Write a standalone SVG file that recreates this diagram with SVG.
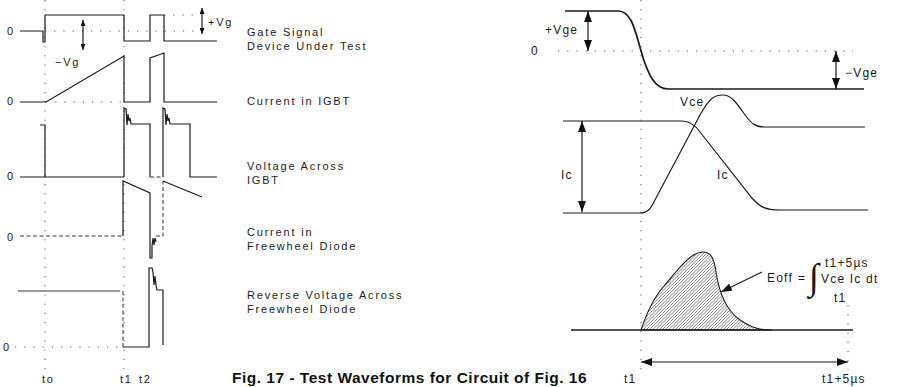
<svg xmlns="http://www.w3.org/2000/svg" width="900" height="387" viewBox="0 0 900 387">
<style>
 .w{fill:none;stroke:#1a1a1a;stroke-width:1.2}
 .wt{fill:none;stroke:#1a1a1a;stroke-width:1.7}
 .dot{fill:none;stroke:#555;stroke-width:1;stroke-dasharray:1.2 8}
 .dash{fill:none;stroke:#333;stroke-width:1;stroke-dasharray:4 2.5}
 .t{font-family:"Liberation Sans",Arial,sans-serif;font-size:11px;letter-spacing:1.8px;fill:#1a1a1a}
 .r{font-family:"Liberation Sans",Arial,sans-serif;font-size:12px;letter-spacing:1.2px;fill:#1a1a1a}
 .cap{font-family:"Liberation Sans",Arial,sans-serif;font-size:15.5px;letter-spacing:0.5px;font-weight:bold;fill:#111}
 .arr{fill:none;stroke:#1a1a1a;stroke-width:1.2}
</style>
<defs>
 <marker id="ah" markerUnits="userSpaceOnUse" markerWidth="11" markerHeight="8" refX="11" refY="4" orient="auto-start-reverse"><path d="M0,0 L11,4 L0,8 z" fill="#111"/></marker>
 <marker id="as" markerUnits="userSpaceOnUse" markerWidth="6" markerHeight="5" refX="6" refY="2.5" orient="auto-start-reverse"><path d="M0,0 L6,2.5 L0,5 z" fill="#111"/></marker>
 <pattern id="hatch" patternUnits="userSpaceOnUse" width="3.2" height="3.2"><path d="M-1,1 L1,-1 M0,3.2 L3.2,0 M2.2,4.2 L4.2,2.2" stroke="#222" stroke-width="0.6"/></pattern>
</defs>

<g id="grid">
 <path class="dot" d="M45,0 V372 M124,0 V372 M641,0 V372 M848,305 V370"/>
 <path class="dot" d="M45,31 H200 M164,15 H200 M46,102 H124 M15,347 H123 M558,51 H853"/>
 <path class="dash" d="M20,236 H123 M156,236 H163 V181 M150,177 H163 M123,291 V347"/>
</g>

<g id="gate-signal">
 <path class="w" d="M20,31 H43 V42 H45 V15 H124 V41 H150 V15 H164 V41 H217"/>
 <text class="t" x="7" y="35">0</text>
 <text class="t" x="55" y="66">−Vg</text>
 <text class="t" x="208" y="26">+Vg</text>
 <text class="t" x="247" y="36">Gate Signal</text>
 <text class="t" x="247" y="50">Device Under Test</text>
</g>

<g id="current-igbt">
 <path class="w" d="M20,102 H46 L124,56 V102 H150 V58 L164,53 V102 H217"/>
 <text class="t" x="7" y="105">0</text>
 <text class="t" x="247" y="105">Current in IGBT</text>
</g>

<g id="voltage-igbt">
 <path class="w" d="M40,125 H45 V177 M20,177 H124 M124,177 V108 L126,109 L127,125 L128,114 L129,121 L130,118 L131,124 H150 V177 M163,177 V108 L165,109 L166,125 L167,114 L168,121 L169,118 L170,124 H190 V177 H217"/>
 <text class="t" x="7" y="180">0</text>
 <text class="t" x="247" y="170">Voltage Across</text>
 <text class="t" x="247" y="184">IGBT</text>
</g>

<g id="current-diode">
 <path class="w" d="M123,236 V181 L150,193 V258 L152,258 V246 L153,238 L154,245 L155,238 L156,242 M163,181 L202,197"/>
 <text class="t" x="7" y="241">0</text>
 <text class="t" x="247" y="236">Current in</text>
 <text class="t" x="247" y="250">Freewheel Diode</text>
</g>

<g id="reverse-voltage-diode">
 <path fill="none" stroke="#999" stroke-width="2" d="M18,291 H120"/>
 <path class="w" d="M123,347 H149 V268 L152,268 L153,272 L154,285 L155,276 L156,285 L157,290 H163 V345"/>
 <text class="t" x="3" y="351">0</text>
 <text class="t" x="247" y="299">Reverse Voltage Across</text>
 <text class="t" x="247" y="313">Freewheel Diode</text>
</g>

<g id="time-labels-left">
 <text class="t" x="42" y="383" letter-spacing="0.5">to</text>
 <text class="t" x="120" y="383" letter-spacing="0.5">t1</text>
 <text class="t" x="139" y="383" letter-spacing="0.5">t2</text>
</g>

<g id="vge">
 <path class="wt" d="M565,11 H618 C630,11 634,25 641,51 C648,75 655,89 668,89 H864"/>
 <text class="r" x="531" y="55">0</text>
 <text class="r" x="545" y="34">+Vge</text>
 <text class="r" x="845" y="77">−Vge</text>
</g>

<g id="ic">
 <path class="w" d="M563,121 H682 C690,121 695,125 700,132 L752,198 C760,207 765,210 780,210 H868"/>
 <text class="r" x="561" y="179">Ic</text>
 <text class="r" x="717" y="179">Ic</text>
</g>

<g id="vce">
 <path class="w" d="M563,213 H640 C650,213 652,205 656,198 L700,115 C710,97 715,95 723,95 C732,95 738,105 745,115 C752,124 755,127 765,127 H865"/>
 <text class="r" x="680" y="106">Vce</text>
</g>

<g id="eoff">
 <path fill="none" stroke="#1a1a1a" stroke-width="1.6" d="M571,330 H853"/>
 <path fill="url(#hatch)" stroke="#1a1a1a" stroke-width="1.1" d="M641,330 C647,312 654,297 664,286 C679,268 691,252 703,252 C711,252 714,258 716,272 C719,292 726,310 740,320 C752,328 760,330 772,330 Z"/>
 <text class="r" x="767" y="282">Eoff</text>
 <text class="r" x="798" y="282">=</text>
 <text x="809" y="289" font-family="Liberation Serif, serif" font-size="37" fill="#1a1a1a">∫</text>
 <text class="r" x="825" y="267">t1+5µs</text>
 <text class="r" x="821" y="283">Vce  Ic  dt</text>
 <text class="r" x="834" y="302">t1</text>
</g>

<g id="time-labels-right">
 <text class="r" x="624" y="383">t1</text>
 <text class="r" x="822" y="383">t1+5µs</text>
</g>

<g id="connectors">
 <path class="arr" d="M202,8 V34" marker-start="url(#as)" marker-end="url(#as)"/>
 <path class="arr" d="M83,20 V50" marker-start="url(#as)" marker-end="url(#as)"/>
 <path class="arr" d="M588,11 V51" marker-start="url(#ah)" marker-end="url(#ah)"/>
 <path class="arr" d="M836,51 V89" marker-start="url(#ah)" marker-end="url(#ah)"/>
 <path class="arr" d="M582,121 V212" marker-start="url(#ah)" marker-end="url(#ah)"/>
 <path class="arr" d="M762,272 L721,292" marker-end="url(#ah)"/>
 <path class="arr" d="M641,362 H848" marker-start="url(#ah)" marker-end="url(#ah)"/>
</g>

<g id="caption">
 <text class="cap" x="232" y="383">Fig. 17 - Test Waveforms for Circuit of Fig. 16</text>
</g>
</svg>
